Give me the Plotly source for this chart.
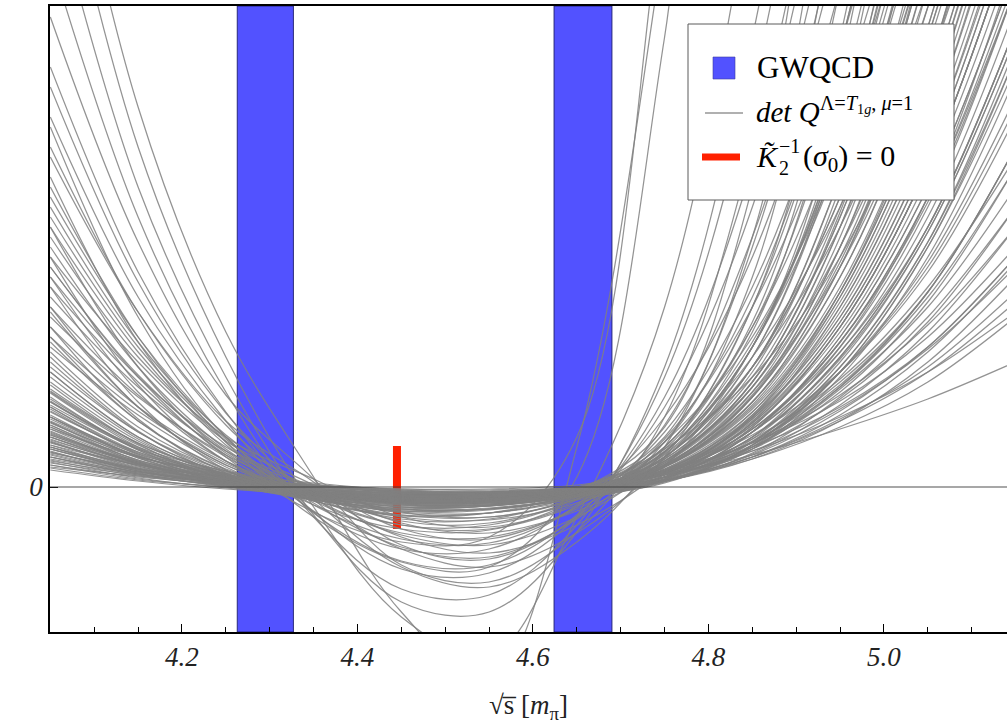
import plotly.graph_objects as go

# sample positions (sqrt(s) in units of m_pi) at which each curve was read
x_grid = [4.05, 4.15, 4.25, 4.35, 4.45, 4.55, 4.65, 4.75, 4.85, 4.95, 5.05, 5.15]

# shallow curves forming the dense bundle around zero
bundle_curves = [
    [0.17, 0.06, -0.02, -0.06, -0.07, -0.05, 0.00, 0.12, 0.32, 0.58, 0.88, 1.25],
    [0.22, 0.10, 0.03, -0.03, -0.06, -0.05, -0.01, 0.12, 0.36, 0.70, 1.15, 1.75],
    [0.26, 0.13, 0.06, 0.00, -0.05, -0.06, -0.03, 0.06, 0.28, 0.66, 1.25, 2.10],
    [0.30, 0.12, 0.01, -0.08, -0.13, -0.11, -0.03, 0.14, 0.44, 0.92, 1.62, 2.60],
    [0.34, 0.18, 0.08, 0.01, -0.04, -0.05, 0.00, 0.14, 0.48, 1.08, 2.00, 3.30],
    [0.38, 0.16, 0.03, -0.07, -0.13, -0.12, -0.05, 0.10, 0.40, 0.95, 1.85, 3.20],
    [0.42, 0.22, 0.10, 0.02, -0.04, -0.06, -0.03, 0.09, 0.45, 1.20, 2.45, 4.40],
    [0.46, 0.19, 0.02, -0.09, -0.15, -0.14, -0.06, 0.10, 0.50, 1.40, 2.90, 5.30],
    [0.50, 0.24, 0.09, -0.02, -0.09, -0.11, -0.06, 0.06, 0.38, 1.10, 2.30, 4.10],
    [0.54, 0.23, 0.04, -0.09, -0.16, -0.15, -0.06, 0.13, 0.58, 1.45, 2.90, 5.00],
    [0.58, 0.30, 0.14, 0.04, -0.03, -0.05, -0.01, 0.15, 0.70, 1.80, 3.60, 6.30],
    [0.62, 0.25, 0.03, -0.11, -0.19, -0.18, -0.08, 0.10, 0.50, 1.30, 2.60, 4.60],
    [0.66, 0.31, 0.11, -0.02, -0.10, -0.11, -0.04, 0.14, 0.64, 1.65, 3.30, 5.80],
    [0.70, 0.29, 0.05, -0.09, -0.15, -0.13, -0.02, 0.22, 0.85, 2.10, 4.20, 7.50],
    [0.75, 0.35, 0.13, -0.01, -0.09, -0.12, -0.08, 0.04, 0.42, 1.20, 2.45, 4.30],
    [0.80, 0.33, 0.05, -0.11, -0.20, -0.19, -0.09, 0.10, 0.60, 1.60, 3.20, 5.60],
    [0.85, 0.40, 0.16, 0.03, -0.05, -0.07, -0.02, 0.20, 0.90, 2.40, 4.80, 8.50],
    [0.90, 0.37, 0.06, -0.12, -0.22, -0.21, -0.10, 0.08, 0.55, 1.50, 3.00, 5.20],
    [0.96, 0.44, 0.15, -0.01, -0.10, -0.11, -0.04, 0.16, 0.75, 1.95, 3.90, 6.90],
    [1.02, 0.43, 0.07, -0.12, -0.21, -0.19, -0.05, 0.24, 1.05, 2.70, 5.40, 9.50],
    [0.28, 0.14, 0.07, 0.02, -0.02, -0.03, 0.00, 0.13, 0.40, 0.80, 1.40, 2.30],
    [0.36, 0.14, 0.01, -0.08, -0.12, -0.11, -0.04, 0.12, 0.45, 1.05, 1.95, 3.40],
    [0.48, 0.21, 0.05, -0.06, -0.12, -0.12, -0.07, 0.06, 0.40, 1.15, 2.40, 4.30],
    [0.64, 0.30, 0.12, 0.00, -0.07, -0.08, -0.02, 0.16, 0.58, 1.40, 2.80, 5.00],
    [0.72, 0.30, 0.04, -0.12, -0.22, -0.22, -0.11, 0.12, 0.72, 1.95, 4.00, 7.00],
    [0.20, 0.11, 0.05, 0.01, -0.02, -0.02, 0.02, 0.16, 0.44, 0.86, 1.50, 2.40],
    [0.32, 0.13, 0.00, -0.09, -0.14, -0.13, -0.06, 0.07, 0.32, 0.76, 1.40, 2.30],
    [0.44, 0.22, 0.09, 0.01, -0.05, -0.07, -0.03, 0.14, 0.55, 1.35, 2.70, 4.80],
    [0.56, 0.23, 0.03, -0.10, -0.17, -0.17, -0.09, 0.06, 0.42, 1.15, 2.40, 4.20],
    [0.82, 0.38, 0.13, -0.02, -0.11, -0.13, -0.07, 0.10, 0.65, 1.80, 3.60, 6.40],
    [0.19, 0.07, 0.00, -0.05, -0.08, -0.07, -0.03, 0.07, 0.28, 0.60, 1.05, 1.70],
    [0.24, 0.12, 0.05, -0.01, -0.06, -0.07, -0.04, 0.06, 0.30, 0.68, 1.20, 1.95],
    [0.40, 0.16, 0.02, -0.08, -0.14, -0.14, -0.08, 0.06, 0.38, 0.98, 1.80, 3.00],
    [0.52, 0.25, 0.10, 0.01, -0.06, -0.08, -0.03, 0.17, 0.66, 1.65, 3.30, 5.80],
    [0.60, 0.25, 0.04, -0.10, -0.18, -0.18, -0.10, 0.07, 0.48, 1.30, 2.60, 4.60],
    [0.68, 0.31, 0.10, -0.03, -0.12, -0.14, -0.08, 0.08, 0.55, 1.50, 3.00, 5.20],
    [0.78, 0.32, 0.05, -0.13, -0.25, -0.26, -0.13, 0.08, 0.55, 1.45, 2.90, 5.10],
    [0.88, 0.39, 0.12, -0.04, -0.14, -0.15, -0.06, 0.15, 0.68, 1.75, 3.50, 6.10],
    [0.94, 0.40, 0.08, -0.08, -0.16, -0.14, -0.02, 0.23, 0.90, 2.25, 4.50, 7.80],
    [0.30, 0.15, 0.07, 0.01, -0.04, -0.05, -0.01, 0.15, 0.52, 1.15, 2.15, 3.70],
    [0.45, 0.18, 0.01, -0.11, -0.18, -0.17, -0.09, 0.05, 0.34, 0.90, 1.70, 2.80],
    [0.35, 0.15, 0.04, -0.05, -0.10, -0.10, -0.05, 0.07, 0.33, 0.82, 1.55, 2.60],
    [0.55, 0.24, 0.07, -0.04, -0.10, -0.09, -0.01, 0.21, 0.82, 2.10, 4.20, 7.40],
    [0.25, 0.09, -0.01, -0.08, -0.11, -0.09, -0.03, 0.10, 0.36, 0.78, 1.38, 2.20],
    [0.65, 0.26, 0.03, -0.13, -0.23, -0.22, -0.12, 0.05, 0.42, 1.15, 2.25, 3.90],
    [0.40, 0.19, 0.07, -0.01, -0.07, -0.08, -0.04, 0.10, 0.42, 1.00, 1.90, 3.20],
    [0.50, 0.21, 0.04, -0.07, -0.13, -0.13, -0.06, 0.10, 0.46, 1.15, 2.20, 3.80],
    [0.58, 0.24, 0.04, -0.08, -0.14, -0.13, -0.05, 0.14, 0.58, 1.45, 2.85, 5.00],
    [0.33, 0.15, 0.05, -0.02, -0.07, -0.07, -0.03, 0.10, 0.38, 0.88, 1.65, 2.80],
    [0.70, 0.33, 0.12, -0.01, -0.08, -0.09, -0.03, 0.17, 0.72, 1.85, 3.70, 6.50],
    [0.27, 0.11, 0.02, -0.05, -0.09, -0.09, -0.05, 0.06, 0.30, 0.72, 1.35, 2.25],
    [0.47, 0.23, 0.10, 0.02, -0.03, -0.04, 0.00, 0.15, 0.55, 1.35, 2.60, 4.60],
    [0.62, 0.27, 0.06, -0.07, -0.15, -0.16, -0.09, 0.06, 0.45, 1.25, 2.55, 4.50],
    [0.38, 0.18, 0.06, -0.02, -0.06, -0.06, -0.01, 0.13, 0.45, 1.02, 1.95, 3.40],
    [0.76, 0.34, 0.09, -0.05, -0.13, -0.13, -0.05, 0.14, 0.62, 1.60, 3.20, 5.60],
    [0.22, 0.08, 0.00, -0.06, -0.10, -0.09, -0.04, 0.08, 0.30, 0.66, 1.15, 1.85],
    [0.53, 0.26, 0.11, 0.02, -0.05, -0.06, -0.02, 0.12, 0.50, 1.28, 2.55, 4.50],
    [0.86, 0.38, 0.10, -0.07, -0.17, -0.18, -0.09, 0.10, 0.60, 1.60, 3.20, 5.60],
    [0.42, 0.17, 0.02, -0.09, -0.16, -0.16, -0.08, 0.08, 0.40, 1.00, 1.95, 3.40],
    [0.98, 0.44, 0.13, -0.05, -0.15, -0.16, -0.07, 0.12, 0.70, 1.90, 3.80, 6.70],
]

# shallow minimum, steeply rising right branch
steep_right_curves = [
    [0.45, 0.20, 0.05, -0.05, -0.10, -0.09, -0.02, 0.30, 1.30, 3.50, 7.50, 12.0],
    [0.60, 0.27, 0.07, -0.05, -0.11, -0.10, -0.01, 0.35, 1.55, 4.20, 9.00, 12.0],
    [0.35, 0.16, 0.04, -0.04, -0.08, -0.07, 0.00, 0.40, 1.80, 5.00, 11.0, 12.0],
    [0.80, 0.35, 0.09, -0.05, -0.12, -0.11, -0.02, 0.45, 2.10, 6.00, 12.0, 12.0],
    [0.52, 0.23, 0.06, -0.06, -0.12, -0.11, -0.03, 0.28, 1.15, 3.00, 6.30, 11.0],
    [0.70, 0.31, 0.08, -0.06, -0.13, -0.12, -0.03, 0.26, 1.05, 2.75, 5.80, 10.0],
    [0.40, 0.18, 0.05, -0.04, -0.09, -0.08, -0.01, 0.33, 1.40, 3.80, 8.20, 12.0],
    [0.95, 0.42, 0.11, -0.06, -0.14, -0.13, -0.02, 0.50, 2.50, 7.00, 12.0, 12.0],
    [0.30, 0.13, 0.03, -0.04, -0.08, -0.07, -0.01, 0.22, 0.95, 2.50, 5.20, 9.00],
    [0.65, 0.29, 0.08, -0.05, -0.11, -0.10, -0.02, 0.24, 1.00, 2.60, 5.50, 9.80],
    [0.50, 0.22, 0.06, -0.05, -0.10, -0.09, -0.01, 0.38, 1.65, 4.50, 9.50, 12.0],
    [1.15, 0.50, 0.13, -0.07, -0.16, -0.15, -0.03, 0.60, 3.00, 8.00, 12.0, 12.0],
    [0.38, 0.17, 0.04, -0.05, -0.09, -0.08, -0.02, 0.20, 0.85, 2.20, 4.60, 8.00],
    [0.85, 0.37, 0.09, -0.07, -0.14, -0.13, -0.04, 0.22, 0.92, 2.40, 5.00, 8.80],
]

# curves with higher outer branches but shallow minimum
wide_curves = [
    [1.10, 0.48, 0.10, -0.08, -0.15, -0.14, -0.05, 0.20, 0.80, 2.00, 4.00, 7.00],
    [1.20, 0.55, 0.16, -0.03, -0.12, -0.12, -0.03, 0.28, 1.10, 2.80, 5.50, 9.50],
    [1.30, 0.56, 0.11, -0.09, -0.20, -0.19, -0.08, 0.18, 0.75, 1.90, 3.80, 6.60],
    [1.45, 0.66, 0.18, -0.04, -0.16, -0.15, -0.04, 0.30, 1.20, 3.10, 6.00, 10.0],
    [1.60, 0.68, 0.14, -0.12, -0.24, -0.22, -0.09, 0.20, 0.85, 2.20, 4.40, 7.60],
    [1.80, 0.80, 0.22, -0.06, -0.20, -0.19, -0.06, 0.32, 1.30, 3.40, 6.80, 11.0],
    [2.00, 0.85, 0.17, -0.14, -0.28, -0.26, -0.10, 0.25, 1.00, 2.60, 5.20, 9.00],
    [2.30, 1.02, 0.26, -0.08, -0.24, -0.23, -0.08, 0.35, 1.40, 3.60, 7.20, 12.0],
    [1.25, 0.55, 0.14, -0.06, -0.15, -0.14, -0.04, 0.18, 0.70, 1.70, 3.40, 6.00],
    [1.50, 0.66, 0.17, -0.07, -0.17, -0.16, -0.05, 0.15, 0.62, 1.55, 3.10, 5.40],
    [1.75, 0.80, 0.22, -0.05, -0.18, -0.18, -0.06, 0.22, 0.90, 2.30, 4.60, 8.00],
    [2.10, 0.95, 0.26, -0.07, -0.22, -0.22, -0.08, 0.26, 1.05, 2.70, 5.40, 9.40],
    [2.60, 1.20, 0.34, -0.06, -0.26, -0.26, -0.09, 0.30, 1.20, 3.10, 6.20, 10.0],
    [3.10, 1.45, 0.42, -0.08, -0.32, -0.32, -0.10, 0.35, 1.40, 3.50, 7.00, 11.0],
    [3.60, 1.70, 0.50, -0.10, -0.38, -0.38, -0.12, 0.40, 1.60, 4.00, 8.00, 12.0],
    [1.05, 0.46, 0.12, -0.05, -0.13, -0.12, -0.03, 0.20, 0.78, 1.95, 3.90, 6.80],
    [1.35, 0.60, 0.16, -0.05, -0.15, -0.15, -0.05, 0.17, 0.68, 1.70, 3.40, 5.90],
    [1.15, 0.50, 0.13, -0.06, -0.14, -0.13, -0.04, 0.16, 0.64, 1.60, 3.20, 5.60],
]

# steep curves with a deep minimum
deep_curves = [
    [1.40, 0.72, 0.20, -0.14, -0.29, -0.26, -0.05, 0.38, 1.10, 2.30, 4.20, 7.00],
    [1.70, 0.90, 0.32, -0.06, -0.34, -0.36, -0.12, 0.36, 1.30, 2.80, 5.00, 8.50],
    [2.00, 1.05, 0.32, -0.18, -0.42, -0.43, -0.13, 0.45, 1.50, 3.30, 6.00, 10.0],
    [2.30, 1.25, 0.46, 0.02, -0.42, -0.52, -0.20, 0.48, 1.80, 3.90, 7.00, 11.0],
    [2.60, 1.35, 0.45, -0.18, -0.52, -0.56, -0.20, 0.55, 2.00, 4.40, 8.00, 12.0],
    [2.90, 1.50, 0.50, -0.24, -0.62, -0.62, -0.18, 0.70, 2.30, 5.00, 9.00, 12.0],
    [3.30, 1.75, 0.66, 0.05, -0.58, -0.72, -0.30, 0.62, 2.50, 5.50, 10.0, 12.0],
    [3.70, 1.90, 0.66, -0.26, -0.74, -0.78, -0.28, 0.80, 2.80, 6.20, 11.0, 12.0],
    [4.20, 2.15, 0.75, -0.25, -0.82, -0.86, -0.30, 0.90, 3.20, 7.00, 12.0, 12.0],
    [4.70, 2.45, 0.92, 0.08, -0.78, -0.95, -0.45, 0.70, 3.40, 7.50, 12.0, 12.0],
    [5.30, 2.70, 0.95, -0.30, -1.02, -1.08, -0.38, 1.10, 4.00, 8.50, 12.0, 12.0],
    [6.00, 3.00, 1.10, -0.28, -1.15, -1.25, -0.45, 1.20, 4.50, 9.50, 12.0, 12.0],
    [6.80, 3.40, 1.30, -0.20, -1.30, -1.70, -0.30, 1.80, 6.00, 12.0, 12.0, 12.0],
    [7.50, 3.80, 1.55, 0.10, -1.25, -1.95, 0.40, 5.50, 12.0, 12.0, 12.0, 12.0],
    [3.00, 1.50, 0.45, -0.30, -0.75, -0.80, 0.10, 4.50, 12.0, 12.0, 12.0, 12.0],
    [2.20, 1.10, 0.30, -0.25, -0.55, -0.50, 0.50, 6.00, 12.0, 12.0, 12.0, 12.0],
    [1.90, 1.00, 0.36, 0.00, -0.25, -0.30, -0.12, 0.30, 1.20, 2.60, 4.80, 8.00],
    [2.50, 1.30, 0.50, 0.08, -0.30, -0.40, -0.16, 0.40, 1.60, 3.60, 6.50, 10.0],
    [1.60, 0.80, 0.26, -0.08, -0.30, -0.33, -0.16, 0.20, 0.95, 2.20, 4.20, 7.20],
    [2.10, 1.10, 0.40, 0.00, -0.36, -0.46, -0.24, 0.22, 1.20, 2.90, 5.60, 9.50],
    [2.40, 1.20, 0.38, -0.12, -0.48, -0.58, -0.30, 0.28, 1.40, 3.30, 6.40, 11.0],
    [2.80, 1.45, 0.52, -0.04, -0.50, -0.66, -0.38, 0.20, 1.40, 3.50, 7.00, 12.0],
    [3.40, 1.75, 0.62, -0.10, -0.62, -0.80, -0.46, 0.30, 1.80, 4.40, 8.50, 12.0],
    [1.80, 0.92, 0.30, -0.10, -0.38, -0.42, -0.18, 0.30, 1.20, 2.90, 5.50, 9.50],
    [2.70, 1.40, 0.48, -0.16, -0.60, -0.70, -0.32, 0.45, 1.90, 4.40, 8.50, 12.0],
    [4.00, 2.05, 0.74, -0.12, -0.80, -1.00, -0.55, 0.40, 2.40, 5.80, 11.0, 12.0],
    [1.50, 0.76, 0.24, -0.10, -0.28, -0.30, -0.12, 0.26, 1.00, 2.40, 4.50, 7.80],
    [2.20, 1.12, 0.36, -0.14, -0.46, -0.50, -0.22, 0.34, 1.45, 3.40, 6.50, 11.0],
]

# GWQCD energy levels (bands) and the pole position
band_lo = [4.263, 4.624]
band_hi = [4.327, 4.690]
pole_x = [4.445, 4.445]
pole_y = [-0.42, 0.41]

x_tick_vals = [4.2, 4.4, 4.6, 4.8, 5.0]
x_tick_text = ["4.2", "4.4", "4.6", "4.8", "5.0"]
y_tick_vals = [0]
y_tick_text = ["0"]

SERIF = "Liberation Serif"
BLUE = "rgb(82,82,255)"
GRAY = "rgba(128,128,128,0.85)"
RED = "rgb(255,32,0)"

fig = go.Figure()

fig.add_trace(go.Scatter(x=pole_x, y=pole_y, mode="lines",
                         line=dict(color=RED, width=8),
                         hoverinfo="skip", showlegend=False))

for group in (bundle_curves, steep_right_curves, wide_curves, deep_curves):
    for ys in group:
        fig.add_trace(go.Scatter(x=x_grid, y=ys, mode="lines",
                                 line=dict(color=GRAY, width=1.25, shape="spline", smoothing=1.0),
                                 hoverinfo="skip", showlegend=False))

shapes = []
for lo, hi in zip(band_lo, band_hi):
    shapes.append(dict(type="rect", xref="x", yref="paper", x0=lo, x1=hi, y0=0, y1=1,
                       fillcolor=BLUE, line=dict(color="rgba(30,30,110,0.9)", width=1),
                       layer="below"))
# zero line
shapes.append(dict(type="line", xref="paper", yref="y", x0=0, x1=1, y0=0, y1=0,
                   line=dict(color="rgba(60,60,60,0.9)", width=1), layer="above"))


# hand-built legend (paper coordinates)
def px2x(px):
    return (px - 50) / 957.0


def py2y(py):
    return (632 - py) / 626.0


shapes.append(dict(type="rect", xref="paper", yref="paper",
                   x0=px2x(688), x1=px2x(954), y0=py2y(200), y1=py2y(24),
                   fillcolor="white", line=dict(color="rgb(90,90,90)", width=1), layer="above"))
shapes.append(dict(type="rect", xref="paper", yref="paper",
                   x0=px2x(713), x1=px2x(735), y0=py2y(79), y1=py2y(57),
                   fillcolor=BLUE, line=dict(color="rgba(60,60,160,0.6)", width=1), layer="above"))
shapes.append(dict(type="line", xref="paper", yref="paper",
                   x0=px2x(705), x1=px2x(743), y0=py2y(113), y1=py2y(113),
                   line=dict(color="rgb(150,150,150)", width=1.5), layer="above"))
shapes.append(dict(type="line", xref="paper", yref="paper",
                   x0=px2x(702), x1=px2x(740), y0=py2y(157), y1=py2y(157),
                   line=dict(color=RED, width=7), layer="above"))

annotations = [
    dict(text="GWQCD", x=px2x(755), y=py2y(68), xref="paper", yref="paper",
         xanchor="left", yanchor="middle", showarrow=False,
         font=dict(family=SERIF, size=31, color="black")),
    dict(text="<i>det Q</i><sup>Λ=<i>T</i><sub>1<i>g</i></sub>, <i>μ</i>=1</sup>",
         x=px2x(754), y=py2y(110), xref="paper", yref="paper",
         xanchor="left", yanchor="middle", showarrow=False,
         font=dict(family=SERIF, size=29, color="black")),
    # K-tilde with stacked sub/superscript
    dict(text="<i>K̃</i>", x=px2x(754), y=py2y(157), xref="paper", yref="paper",
         xanchor="left", yanchor="middle", showarrow=False,
         font=dict(family=SERIF, size=30, color="black")),
    dict(text="−1", x=px2x(777), y=py2y(146), xref="paper", yref="paper",
         xanchor="left", yanchor="middle", showarrow=False,
         font=dict(family=SERIF, size=20, color="black")),
    dict(text="2", x=px2x(777), y=py2y(168), xref="paper", yref="paper",
         xanchor="left", yanchor="middle", showarrow=False,
         font=dict(family=SERIF, size=20, color="black")),
    dict(text="(<i>σ</i><sub>0</sub>) = 0", x=px2x(801), y=py2y(158), xref="paper", yref="paper",
         xanchor="left", yanchor="middle", showarrow=False,
         font=dict(family=SERIF, size=30, color="black")),
]

fig.update_layout(
    width=1007, height=725,
    margin=dict(l=50, r=0, t=6, b=93),
    paper_bgcolor="white", plot_bgcolor="white",
    shapes=shapes, annotations=annotations,
    showlegend=False,
    xaxis=dict(range=[4.0496, 5.1402], tickvals=x_tick_vals, ticktext=x_tick_text,
               ticks="inside", ticklen=8, tickwidth=1.2, tickcolor="black",
               minor=dict(dtick=0.05, tick0=4.0, ticks="inside", ticklen=5,
                          tickcolor="black", tickwidth=1),
               showline=True, linecolor="black", linewidth=1.5, mirror=True,
               showgrid=False, zeroline=False, layer="above traces",
               tickfont=dict(family=SERIF, size=27, color="#222", style="italic"),
               title=dict(text="√s̅ [<i>m</i><sub>π</sub>]", standoff=24,
                          font=dict(family=SERIF, size=27, color="#222"))),
    yaxis=dict(range=[-1.45, 4.81], tickvals=y_tick_vals, ticktext=y_tick_text,
               ticks="inside", ticklen=8, tickwidth=1.2, tickcolor="black",
               showline=True, linecolor="black", linewidth=1.5, mirror=False,
               showgrid=False, zeroline=False, layer="above traces",
               tickfont=dict(family=SERIF, size=27, color="#222", style="italic")),
)

fig.write_html("out.html", config={"displayModeBar": False},
               post_script="document.body.style.margin='0';")
